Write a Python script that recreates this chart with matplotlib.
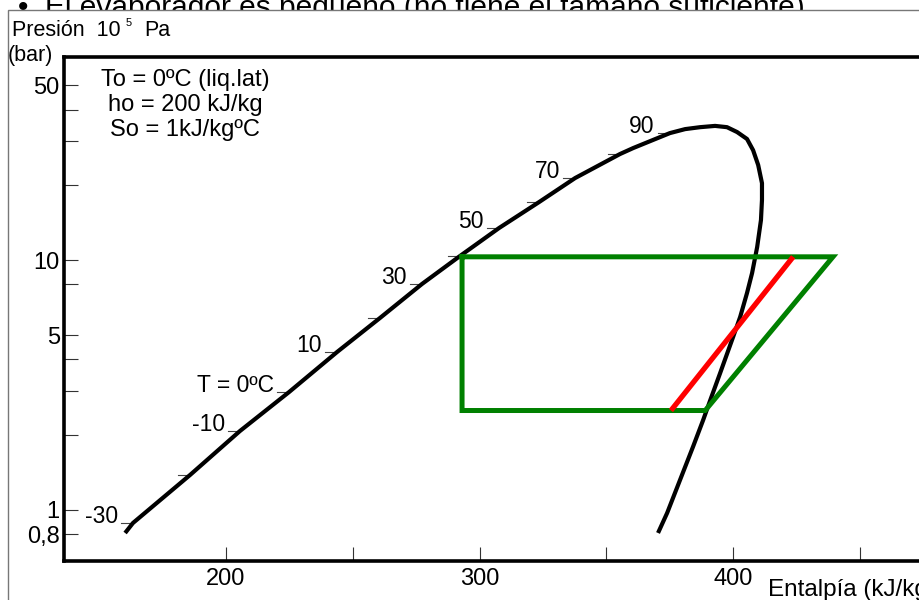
import matplotlib
matplotlib.use("Agg")
import matplotlib.pyplot as plt
from matplotlib.patches import Rectangle

plt.rcParams['font.family'] = ['Liberation Sans', 'DejaVu Sans']

# saturation curve (liquid branch -> top of dome -> vapour branch)
sat_h = [160.2, 163.3, 185.8, 205.5, 224.9, 243.8, 260.7, 277.3, 292.3, 307.7, 323.5,
         337.7, 355.4, 360.6, 367.3, 375.1, 381.1, 387.0, 392.9, 397.6, 401.6, 405.5,
         407.9, 409.9, 411.4, 411.4, 411.0, 409.5, 407.5, 405.5, 402.8, 400.0, 394.9,
         391.0, 388.2, 384.2, 379.1, 374.0, 370.4]
sat_p = [0.809, 0.887, 1.38, 2.07, 2.965, 4.285, 5.86, 8.02, 10.38, 13.43, 17.06,
         21.28, 26.55, 28.05, 29.9, 32.2, 33.4, 34.0, 34.4, 34.0, 32.5, 30.5,
         27.5, 24.0, 20.3, 17.4, 14.45, 11.27, 8.87, 7.38, 5.92, 4.92, 3.53,
         2.75, 2.29, 1.79, 1.32, 0.973, 0.809]

# temperature marks on the liquid line
temp_h = [163.3, 185.8, 205.5, 224.9, 243.8, 260.7, 277.3, 292.3, 307.7, 323.5, 337.7, 355.4, 375.1]
temp_p = [0.887, 1.38, 2.07, 2.965, 4.285, 5.86, 8.02, 10.38, 13.43, 17.06, 21.28, 26.55, 32.2]
temp_labels = ['-30', '', '-10', 'T = 0ºC', '10', '', '30', '', '50', '', '70', '', '90']

# refrigeration cycle
cycle_h = [293.1, 439.4, 389.0, 293.1, 293.1]
cycle_p = [10.3, 10.3, 2.5, 2.5, 10.3]
red_h = [375.5, 423.7]
red_p = [2.5, 10.3]

x_major = [200, 300, 400]
x_minor = [250, 350, 450]
y_major = [50, 10, 5, 1, 0.8]
y_major_labels = ['50', '10', '5', '1', '0,8']
y_minor = [40, 30, 20, 8, 4, 3, 2]

W, H = 920, 600
fig = plt.figure(figsize=(W / 100, H / 100), dpi=100)

# slide text hidden behind the picture
fig.text(18 / W, 1 - 16 / H, '•  El evaporador es pequeño (no tiene el tamaño suficiente)',
         fontsize=21.5, ha='left', va='baseline', zorder=0.5)
fig.patches.append(Rectangle((8 / W, -0.05), 1.1, (H - 10) / H + 0.05,
                             transform=fig.transFigure, facecolor='white',
                             edgecolor='#777777', lw=1, zorder=1))

ax = fig.add_axes([64 / W, 1 - 561 / H, (925 - 64) / W, (561 - 57) / H])
ax.set_zorder(2)
ax.set_yscale('log')
ax.set_xlim(136.1, 475.7)
ax.set_ylim(0.625, 64.9)

ax.plot(sat_h, sat_p, color='black', lw=3.0, solid_capstyle='butt',
        solid_joinstyle='round', zorder=3)
for h, p, lab in zip(temp_h, temp_p, temp_labels):
    ax.plot([h - 4.8, h], [p, p], color='#444444', lw=0.8, zorder=2)
    if lab:
        ax.text(h - 6.0, p, lab, fontsize=16.5, ha='right', va='baseline')

ax.plot(cycle_h, cycle_p, color='#008000', lw=3.6, solid_joinstyle='miter', zorder=4)
ax.plot(red_h, red_p, color='#ff0000', lw=3.8, solid_capstyle='butt', zorder=5)

ax.set_xticks(x_major)
ax.set_xticklabels([str(v) for v in x_major])
ax.set_xticks(x_minor, minor=True)
ax.set_yticks(y_major)
ax.set_yticklabels(y_major_labels)
ax.set_yticks(y_minor, minor=True)
ax.yaxis.set_minor_formatter(plt.NullFormatter())
ax.tick_params(which='both', direction='in', length=10, width=0.8, color='#333333',
               labelsize=17, top=False, right=False)
ax.tick_params(axis='x', pad=5)
ax.tick_params(axis='y', pad=3)
for s in ax.spines.values():
    s.set_linewidth(2.6)

fig.text(185 / W, 1 - 105 / H, 'To = 0ºC (liq.lat)\nho = 200 kJ/kg\nSo = 1kJ/kgºC',
         fontsize=17, ha='center', va='center', multialignment='center',
         linespacing=1.15, zorder=3)

fig.text(12 / W, 1 - 36 / H, 'Presión  10', fontsize=15.5, ha='left', va='baseline', zorder=3)
fig.text(126 / W, 1 - 26 / H, '5', fontsize=8, ha='left', va='baseline', zorder=3)
fig.text(144 / W, 1 - 36 / H, 'Pa', fontsize=15.5, ha='left', va='baseline', zorder=3)
fig.text(8 / W, 1 - 55 / H, '(bar)', fontsize=15.5, ha='left', va='center', zorder=3)
fig.text(768 / W, 1 - 596 / H, 'Entalpía (kJ/kg)', fontsize=17.5, ha='left', va='baseline', zorder=3)

fig.savefig('out.png', dpi=100)
